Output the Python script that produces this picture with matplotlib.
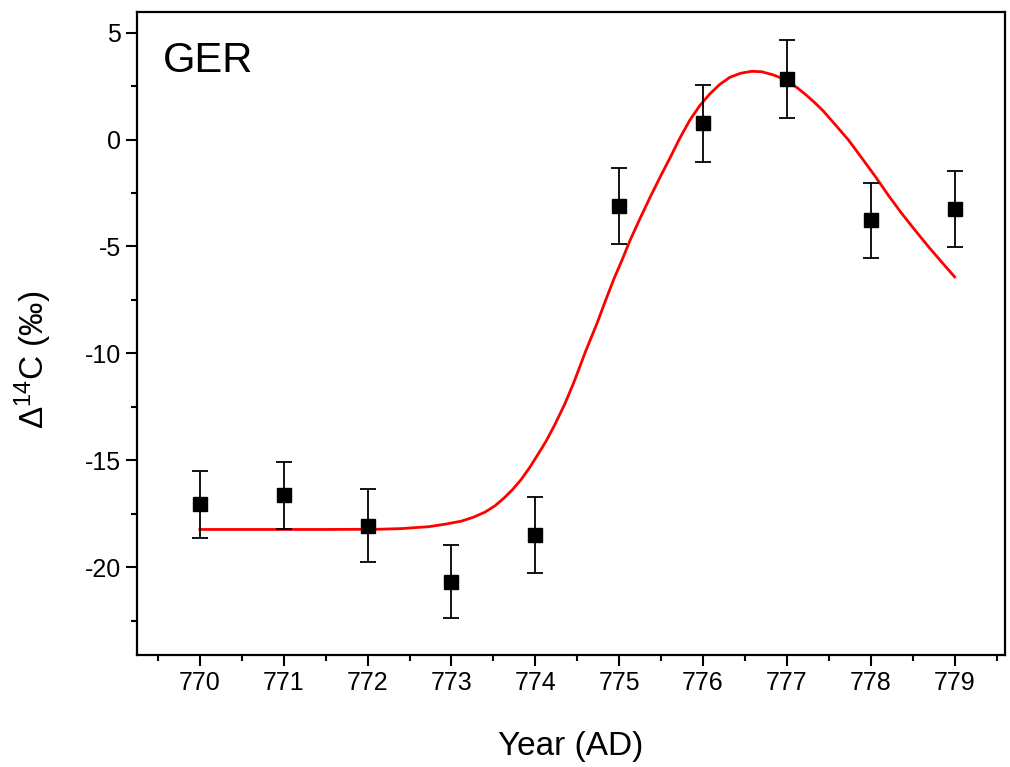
import matplotlib
matplotlib.use('Agg')
import matplotlib.pyplot as plt
from matplotlib.ticker import MultipleLocator

FontSize = 18
LabelSize = 24

# measured data (GER)
years = [770, 771, 772, 773, 774, 775, 776, 777, 778, 779]
d14c = [-17.06, -16.64, -18.05, -20.67, -18.48, -3.11, 0.77, 2.83, -3.78, -3.23]
d14c_err = [1.55, 1.55, 1.70, 1.70, 1.77, 1.78, 1.80, 1.83, 1.75, 1.78]

# fitted model curve
fit_x = [770.0, 770.5, 771.0, 771.5, 772.13, 772.4, 772.73, 772.93, 773.12, 773.26,
         773.40, 773.52, 773.63, 773.73, 773.83, 773.93, 774.03, 774.13, 774.23, 774.35,
         774.46, 774.60, 774.74, 774.84, 774.94, 775.04, 775.13, 775.25, 775.37, 775.49,
         775.61, 775.72, 775.84, 775.96, 776.08, 776.2, 776.32, 776.45, 776.58, 776.7,
         776.83, 776.93, 777.03, 777.13, 777.23, 777.33, 777.43, 777.58, 777.74, 777.9,
         778.06, 778.21, 778.37, 778.53, 778.69, 778.85, 779.0]
fit_y = [-18.23, -18.23, -18.23, -18.23, -18.22, -18.19, -18.10, -17.98, -17.84, -17.66,
         -17.42, -17.12, -16.75, -16.36, -15.90, -15.35, -14.73, -14.09, -13.35, -12.38,
         -11.35, -9.90, -8.55, -7.50, -6.49, -5.58, -4.71, -3.68, -2.69, -1.74,
         -0.83, 0.04, 0.89, 1.58, 2.13, 2.58, 2.91, 3.10, 3.19, 3.17,
         3.03, 2.88, 2.67, 2.40, 2.08, 1.73, 1.35, 0.68, -0.05, -0.90,
         -1.76, -2.61, -3.46, -4.25, -5.02, -5.75, -6.42]

plt.rcParams['font.family'] = ['Liberation Sans', 'DejaVu Sans']
plt.rcParams['mathtext.fontset'] = 'custom'
plt.rcParams['mathtext.rm'] = 'Liberation Sans'
plt.rcParams['mathtext.it'] = 'Liberation Sans:italic'
plt.rcParams['axes.unicode_minus'] = False

fig = plt.figure(figsize=(10.1, 7.67), dpi=100)
ax = fig.add_axes([0.1356, 0.146, 0.8594, 0.838])

ax.plot(fit_x, fit_y, color='#ff0000', linewidth=2.0, solid_joinstyle='round', zorder=2)
ax.errorbar(years, d14c, yerr=d14c_err, fmt='s', color='black', markersize=10,
            ecolor='black', elinewidth=1.3, capsize=6, capthick=1.3, zorder=3)

ax.set_xlim(769.25, 779.6)
ax.set_ylim(-24.1, 5.95)
ax.xaxis.set_major_locator(MultipleLocator(1))
ax.xaxis.set_minor_locator(MultipleLocator(0.5))
ax.yaxis.set_major_locator(MultipleLocator(5))
ax.yaxis.set_minor_locator(MultipleLocator(2.5))

ax.tick_params(which='both', direction='out', top=False, right=False, width=1.5)
ax.tick_params(which='major', length=8, labelsize=FontSize)
ax.tick_params(which='minor', length=4.5)
for s in ax.spines.values():
    s.set_linewidth(1.6)

ax.set_xlabel('Year (AD)', fontsize=LabelSize, labelpad=26)
ax.set_ylabel(r'$\Delta^{14}$C (‰)', fontsize=LabelSize)
ax.yaxis.set_label_coords(-0.095, 0.459)
ax.text(0.03, 0.955, 'GER', transform=ax.transAxes, fontsize=30, va='top', ha='left')

fig.savefig('out.png', dpi=100)
